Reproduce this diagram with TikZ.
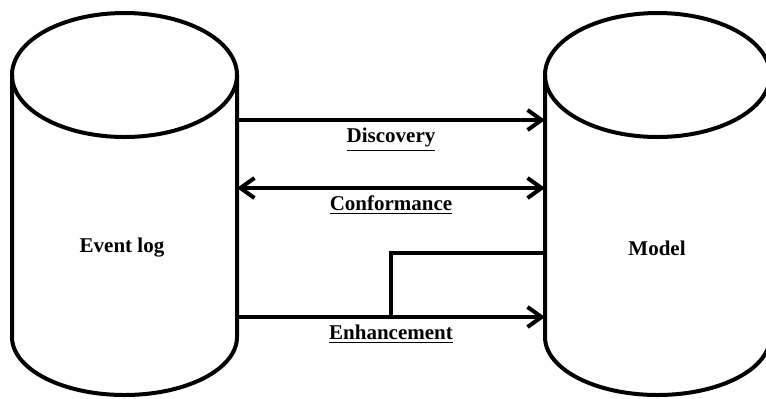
\documentclass[tikz,border=0pt]{standalone}
\usepackage{fontspec}
\setmainfont{Liberation Serif}
\usetikzlibrary{arrows.meta}
\begin{document}
\begin{tikzpicture}[x=0.5pt, y=-0.5pt, line width=2pt,
    body/.style={minimum width=112.5pt, minimum height=131pt, inner sep=0pt, outer sep=0pt},
    barb/.tip={Straight Barb[length=7pt, width=10pt, line width=2pt]},
    arr/.style={-barb},
    arrboth/.style={barb-barb},
    lbl/.style={font=\fontsize{10.5}{12}\selectfont\bfseries, inner sep=2pt}]
    \useasboundingbox (0,0) rectangle (766,398);
    \node[body] (log) at (124.5,206) {};
    \node[body] (model) at (657.5,206) {};
    \draw (log.north west) -- (log.south west) arc[start angle=180, end angle=0, x radius=112.5, y radius=58] -- (log.north east);
    \draw (log.north) ellipse[x radius=112.5, y radius=62];
    \draw (model.north west) -- (model.south west) arc[start angle=180, end angle=0, x radius=112.5, y radius=58] -- (model.north east);
    \draw (model.north) ellipse[x radius=112.5, y radius=62];
    \node[lbl] (logtxt) at (122,248) {Event log};
    \node[lbl] (modeltxt) at (657,248) {Model};
    \draw[arr] (log.east |- 0,120) -- (model.west |- 0,120) node[lbl, midway, below=1pt] {\underline{Discovery}};
    \draw[arrboth] (log.east |- 0,188) -- (model.west |- 0,188) node[lbl, midway, below=1pt] {\underline{Conformance}};
    \draw[arr] (log.east |- 0,317) -- coordinate[midway] (join) (model.west |- 0,317) node[lbl, midway, below=1pt] {\underline{Enhancement}};
    \draw (model.west |- 0,253) -| (join);
\end{tikzpicture}
\end{document}
